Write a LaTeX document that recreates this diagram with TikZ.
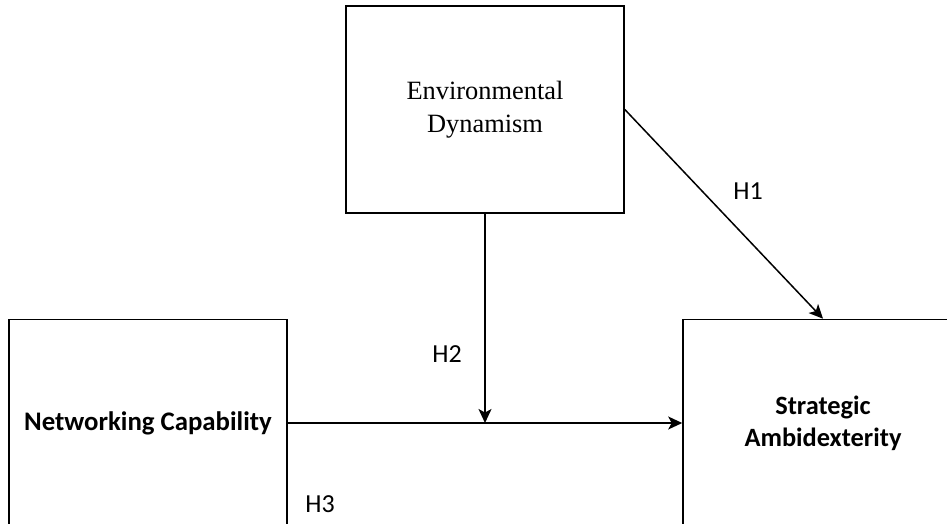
\documentclass[tikz,border=0pt]{standalone}
\usepackage{fontspec}
\setmainfont{Liberation Serif}
\newfontfamily\calibri{Carlito}
\usetikzlibrary{arrows.meta}
\begin{document}
\begin{tikzpicture}[x=1pt,y=-1pt,line cap=butt,line join=miter,
  box/.style={draw,line width=1.6pt,rectangle,inner sep=0pt,align=center,
    minimum width=278pt,minimum height=207pt},
  arr/.style={line width=1.5pt,-{Stealth[length=14pt,width=13pt,inset=3.5pt]}},
  hyp/.style={font=\calibri\fontsize{26}{31}\selectfont}]
  \useasboundingbox (0,0) rectangle (947,524);
  \clip (0,0) rectangle (947,524);
  \node[box,font=\fontsize{26.4}{33}\selectfont] (env) at (485,109.5) {Environmental\\Dynamism};
  \node[box,font=\calibri\bfseries\fontsize{26.8}{32}\selectfont] (nc) at (148,423) {Networking Capability};
  \node[box,minimum width=280pt,font=\calibri\bfseries\fontsize{26.4}{32}\selectfont] (sa) at (823,423) {Strategic\\Ambidexterity};
  \coordinate (mod) at (env.south |- nc.east);
  \draw[arr] (nc.east) -- (sa.west);
  \draw[arr] (env.south) -- (mod);
  \draw[arr] (env.east) -- (sa.north);
  \node[hyp] (h1) at (748,191) {H1};
  \node[hyp] (h2) at (447,354) {H2};
  \node[hyp] (h3) at (320,504) {H3};
\end{tikzpicture}
\end{document}
